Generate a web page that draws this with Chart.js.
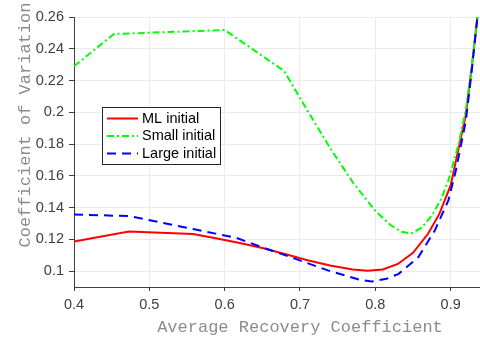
<!DOCTYPE html>
<html>
<head>
<meta charset="utf-8">
<script src="https://cdn.jsdelivr.net/npm/chart.js@4"></script>
<style>
  html, body { margin: 0; padding: 0; background: #fff; }
  #frame { width: 480px; height: 341px; overflow: hidden; position: relative; }
  #box { width: 535px; height: 341px; position: absolute; left: 0; top: 0; }
</style>
</head>
<body>
<div id="frame"><div id="box"><canvas id="myChart"></canvas></div></div>
<script>
// values
var xTicks = [0.4, 0.5, 0.6, 0.7, 0.8, 0.9, 1.0];
var yTicks = [0.1, 0.12, 0.14, 0.16, 0.18, 0.2, 0.22, 0.24, 0.26];

var xML = [0.4, 0.473, 0.558, 0.59, 0.62, 0.65, 0.68, 0.71, 0.74, 0.77, 0.79, 0.81, 0.83, 0.85, 0.87, 0.885, 0.9, 0.91, 0.92, 0.928, 0.936];
var yML = [0.1186, 0.125, 0.1233, 0.1205, 0.1177, 0.1145, 0.1108, 0.1068, 0.1035, 0.1010, 0.1002, 0.1010, 0.1045, 0.1115, 0.1235, 0.136, 0.154, 0.176, 0.198, 0.228, 0.262];

var xSmall = [0.4, 0.453, 0.6, 0.679, 0.71, 0.742, 0.77, 0.8, 0.82, 0.835, 0.848, 0.862, 0.875, 0.887, 0.897, 0.91, 0.92, 0.928, 0.936];
var ySmall = [0.229, 0.2493, 0.2518, 0.226, 0.201, 0.176, 0.156, 0.138, 0.129, 0.1248, 0.1237, 0.1275, 0.135, 0.145, 0.157, 0.179, 0.201, 0.229, 0.262];

var xLarge = [0.4, 0.474, 0.558, 0.588, 0.615, 0.65, 0.694, 0.738, 0.778, 0.795, 0.815, 0.831, 0.857, 0.879, 0.897, 0.907, 0.92, 0.928, 0.936];
var yLarge = [0.1357, 0.1346, 0.1265, 0.1236, 0.121, 0.115, 0.1077, 0.1003, 0.0947, 0.0934, 0.0952, 0.0983, 0.1087, 0.1256, 0.1445, 0.1635, 0.194, 0.226, 0.262];

var seriesNames = ["ML initial", "Small initial", "Large initial"];

var pts = function(xs, ys) {
    return xs.map(function(x, i) { return {x: x, y: ys[i]}; });
};

var tickFont = {family: '"Liberation Sans", Arial, sans-serif', size: 14.5};
var monoFont = '"Liberation Mono", "Courier New", monospace';

// y axis title sits a bit above the axis centre in the original, and the legend floats inside the axes
var extras = {
    id: 'extras',
    afterDatasetsDraw: function(chart) {
        var ctx = chart.ctx, a = chart.chartArea;
        ctx.save();
        // legend
        var lx = a.left + 28, ly = a.top + 90, lw = 118, lh = 57;
        ctx.fillStyle = '#fff';
        ctx.fillRect(lx, ly, lw, lh);
        ctx.strokeStyle = '#262626';
        ctx.lineWidth = 1;
        ctx.setLineDash([]);
        ctx.strokeRect(lx + 0.5, ly + 0.5, lw, lh);
        ctx.font = '14.5px "Liberation Sans", Arial, sans-serif';
        ctx.textBaseline = 'middle';
        chart.data.datasets.forEach(function(ds, i) {
            var y = ly + 11.5 + i * 17.5;
            ctx.strokeStyle = ds.borderColor;
            ctx.lineWidth = 2;
            ctx.setLineDash(ds.borderDash || []);
            ctx.beginPath();
            ctx.moveTo(lx + 5, y);
            ctx.lineTo(lx + 36, y);
            ctx.stroke();
            ctx.fillStyle = '#000';
            ctx.fillText(seriesNames[i], lx + 40, y);
        });
        ctx.restore();
    },
    afterDraw: function(chart) {
        var ctx = chart.ctx, a = chart.chartArea;
        ctx.save();
        ctx.font = '17px ' + monoFont;
        ctx.fillStyle = '#8c8c8c';
        ctx.textAlign = 'center';
        ctx.textBaseline = 'middle';
        ctx.translate(25, (a.top + a.bottom) / 2 - 27);
        ctx.rotate(-Math.PI / 2);
        ctx.fillText('Coefficient of Variation', 0, 0);
        ctx.restore();
    }
};

var ctx = document.getElementById('myChart');
var myChart = new Chart(ctx, {
    type: 'line',
    data: {
        datasets: [
            {
                label: seriesNames[0],
                data: pts(xML, yML),
                borderColor: "rgb(255, 0, 0)",
                borderWidth: 2,
                fill: false,
                order: 2
            },
            {
                label: seriesNames[1],
                data: pts(xSmall, ySmall),
                borderColor: "rgb(0, 255, 0)",
                borderWidth: 2,
                borderDash: [7, 3, 2, 3],
                fill: false,
                order: 1
            },
            {
                label: seriesNames[2],
                data: pts(xLarge, yLarge),
                borderColor: "rgb(0, 0, 255)",
                borderWidth: 2,
                borderDash: [9, 6],
                fill: false,
                order: 0
            }
        ]
    },
    options: {
        responsive: true,
        maintainAspectRatio: false,
        animation: false,
        layout: {padding: {left: 0, top: 17, right: 0, bottom: 0}},
        elements: {point: {radius: 0}, line: {tension: 0}},
        plugins: {legend: {display: false}, tooltip: {enabled: false}},
        scales: {
            x: {
                type: 'linear',
                min: 0.4,
                max: 1.0,
                afterBuildTicks: function(s) { s.ticks = xTicks.map(function(v) { return {value: v}; }); },
                afterFit: function(s) { s.height = 54; },
                ticks: {
                    font: tickFont,
                    color: '#404040',
                    padding: 5,
                    maxRotation: 0,
                    callback: function(v) { return String(+v.toFixed(2)); }
                },
                grid: {color: '#ebebeb', tickColor: '#404040', tickLength: 4},
                border: {color: '#404040', width: 1},
                title: {
                    display: true,
                    text: 'Average Recovery Coefficient',
                    color: '#8c8c8c',
                    font: {family: monoFont, size: 17},
                    padding: {top: 0, bottom: 3}
                }
            },
            y: {
                min: 0.09,
                max: 0.26,
                afterBuildTicks: function(s) { s.ticks = yTicks.map(function(v) { return {value: v}; }); },
                afterFit: function(s) { s.width = 74; },
                ticks: {
                    font: tickFont,
                    color: '#404040',
                    padding: 5,
                    callback: function(v) { return String(+v.toFixed(2)); }
                },
                grid: {color: '#ebebeb', tickColor: '#404040', tickLength: 5},
                border: {color: '#404040', width: 1}
            }
        }
    },
    plugins: [extras]
});
</script>
</body>
</html>
